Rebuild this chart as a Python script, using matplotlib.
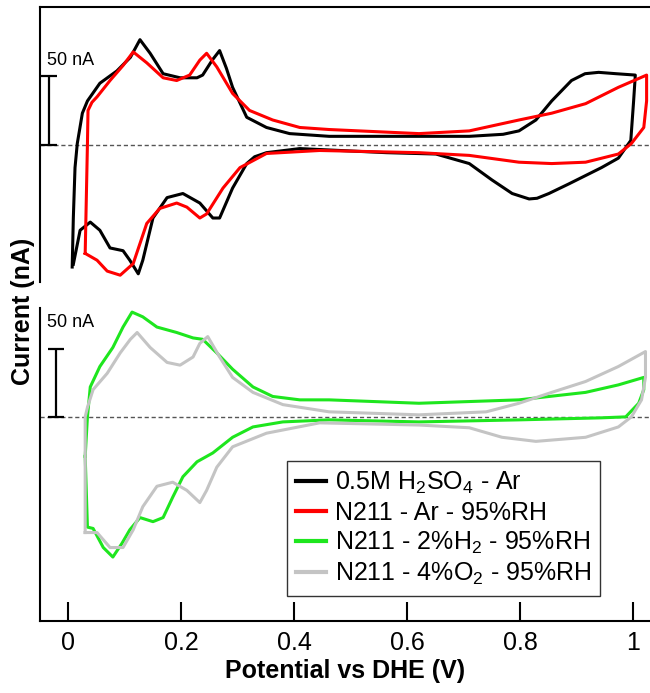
#!/usr/bin/env python3

import matplotlib
matplotlib.use("Agg")
import matplotlib.pyplot as plt

plt.rcParams['font.family'] = ['Liberation Sans', 'DejaVu Sans']
plt.rcParams['mathtext.default'] = 'regular'

# potential (V) | current (nA), one closed loop per cycle
h2so4_v = [0.007, 0.009, 0.012, 0.016, 0.025, 0.034, 0.056, 0.086, 0.110, 0.127,
           0.145, 0.168, 0.198, 0.228, 0.238, 0.255, 0.268, 0.280, 0.291, 0.316,
           0.351, 0.392, 0.462, 0.710, 0.770, 0.798, 0.828, 0.856, 0.891, 0.915,
           0.939, 0.970, 1.004, 1.001, 0.996, 0.974, 0.944, 0.886, 0.851, 0.830,
           0.816, 0.786, 0.750, 0.710, 0.651, 0.563, 0.410, 0.351, 0.330, 0.316,
           0.291, 0.268, 0.256, 0.233, 0.203, 0.175, 0.150, 0.132, 0.124, 0.109,
           0.097, 0.074, 0.056, 0.039, 0.021, 0.009]
h2so4_i = [-90, -54, -17, 0.7, 23, 32, 45, 54, 64, 77,
           67, 52, 49, 49, 51, 62, 69, 56, 42, 20,
           12.5, 8, 6, 6, 7.5, 10, 18, 32, 47, 52,
           53, 52, 51, 32, 3, -10, -17, -29, -36, -39.5,
           -40, -36, -26, -14, -7, -6, -3, -6, -9, -14,
           -32, -54, -54, -43, -36, -39, -54, -85, -95, -85,
           -78, -76, -63, -57, -63, -88]

ar_v = [0.030, 0.034, 0.035, 0.042, 0.051, 0.074, 0.097, 0.115, 0.139, 0.168,
        0.192, 0.215, 0.233, 0.245, 0.263, 0.291, 0.321, 0.362, 0.410, 0.462,
        0.621, 0.710, 0.798, 0.856, 0.916, 0.974, 1.024, 1.024, 1.019, 0.997,
        0.974, 0.916, 0.856, 0.798, 0.710, 0.621, 0.445, 0.351, 0.304, 0.274,
        0.245, 0.233, 0.210, 0.192, 0.162, 0.139, 0.115, 0.092, 0.069, 0.051,
        0.030]
ar_i = [-80, 0.7, 25, 31, 35, 47, 58, 68, 60, 49,
        47, 51, 62, 67, 57, 37.5, 25, 18, 12.5, 11,
        8, 10, 18, 23, 30, 42, 51, 32, 12.5, 0.7,
        -7, -13, -14, -13, -8, -6, -4.4, -6.6, -17, -32,
        -51, -54, -46, -43, -47, -58, -87.5, -96, -93, -85,
        -80]

h2_v = [0.030, 0.034, 0.039, 0.056, 0.079, 0.097, 0.113, 0.132, 0.157, 0.192,
        0.221, 0.238, 0.263, 0.291, 0.327, 0.362, 0.410, 0.462, 0.621, 0.798,
        0.916, 0.974, 1.019, 1.019, 1.010, 0.987, 0.944, 0.798, 0.621, 0.462,
        0.380, 0.327, 0.291, 0.256, 0.228, 0.203, 0.185, 0.168, 0.150, 0.127,
        0.109, 0.095, 0.079, 0.062, 0.044, 0.034, 0.030]
h2_i = [-29, 0, 22, 37, 51, 66, 77, 73.5, 66, 62,
        58, 57, 47, 35, 22, 15, 12.5, 12.5, 10, 12.5,
        18, 23.5, 29, 20, 10, 0, -0.7, -2.2, -3.7, -2.2,
        -3.7, -7.4, -15, -26.5, -33, -44, -59, -74, -77, -74,
        -83, -93, -103, -96, -82, -81, -29]

o2_v = [0.030, 0.030, 0.034, 0.044, 0.069, 0.092, 0.110, 0.122, 0.145, 0.175,
        0.198, 0.221, 0.233, 0.247, 0.268, 0.291, 0.327, 0.380, 0.462, 0.621,
        0.740, 0.798, 0.856, 0.916, 0.974, 1.022, 1.022, 1.015, 0.997, 0.974,
        0.916, 0.828, 0.768, 0.710, 0.621, 0.445, 0.351, 0.291, 0.263, 0.245,
        0.233, 0.210, 0.185, 0.157, 0.132, 0.115, 0.097, 0.074, 0.051, 0.030]
o2_i = [-85, 0, 7, 20, 32, 47, 57, 62, 51, 40,
        38, 44, 54, 59, 44, 29, 18, 9, 3.7, 1.5,
        3.7, 10, 18, 26, 37, 48, 29, 12.5, 0, -7.4,
        -15, -18, -15, -8, -6, -4.4, -12, -22, -37, -54,
        -63, -54, -48, -51, -66, -83, -96, -96, -85, -85]

labels = [r'0.5M H$_2$SO$_4$ - Ar', 'N211 - Ar - 95%RH',
          r'N211 - 2%H$_2$ - 95%RH', r'N211 - 4%O$_2$ - 95%RH']
colors = ['#000000', '#ff0000', '#1ee61e', '#c4c4c4']
xticks = [0, 0.2, 0.4, 0.6, 0.8, 1]
xticklabels = ['0', '0.2', '0.4', '0.6', '0.8', '1']


def scale_bar(ax, x, xt, yt):
  ax.errorbar([x], [25], yerr=[25], color='black', lw=1.6, capsize=6, capthick=1.6)
  ax.text(xt, yt, '50 nA', fontsize=13, va='center', ha='left')


def main():
  fig = plt.figure(figsize=(6.5, 6.93), dpi=100)
  ax1 = fig.add_axes([40/650, 1 - 282/693, 610/650, 275/693])
  ax2 = fig.add_axes([40/650, 1 - 621/693, 610/650, 313/693])

  lw = 2.2
  ax1.plot(h2so4_v, h2so4_i, color=colors[0], lw=lw, label=labels[0])
  ax1.plot(ar_v, ar_i, color=colors[1], lw=lw, label=labels[1])
  ax2.plot(h2_v, h2_i, color=colors[2], lw=lw, label=labels[2])
  ax2.plot(o2_v, o2_i, color=colors[3], lw=lw, label=labels[3])

  for ax in (ax1, ax2):
    ax.set_xlim(-0.05, 1.03)
    ax.axhline(0, color='#555555', lw=1, ls=(0, (3, 2)), zorder=0)
    ax.set_yticks([])
    ax.spines['right'].set_visible(False)
    for s in ax.spines.values():
      s.set_linewidth(1.5)

  ax1.set_ylim(-101, 101)
  ax1.spines['bottom'].set_visible(False)
  ax1.set_xticks([])

  ax2.set_ylim(-150, 80)
  ax2.spines['top'].set_visible(False)
  ax2.set_xticks(xticks)
  ax2.set_xticklabels(xticklabels)
  ax2.tick_params(axis='x', direction='in', length=14, width=1.5, pad=7, labelsize=18)
  ax2.set_xlabel('Potential vs DHE (V)', fontsize=18, fontweight='bold', labelpad=3)

  scale_bar(ax1, -0.034, -0.037, 62)
  scale_bar(ax2, -0.021, -0.037, 69)

  fig.text(23/650, 1 - 311/693, 'Current (nA)', rotation=90, fontsize=18,
           fontweight='bold', ha='center', va='center')

  h1, l1 = ax1.get_legend_handles_labels()
  h2, l2 = ax2.get_legend_handles_labels()
  leg = ax2.legend(h1 + h2, l1 + l2, loc='lower left', bbox_to_anchor=(0.405, 0.08),
                   borderaxespad=0, fontsize=18, frameon=True, fancybox=False,
                   handlelength=1.2, handletextpad=0.35, labelspacing=0.2,
                   borderpad=0.35)
  leg.get_frame().set_edgecolor('black')
  leg.get_frame().set_linewidth(1.0)
  for line in leg.get_lines():
    line.set_linewidth(3)

  fig.savefig('out.png', dpi=100)


if __name__ == "__main__":
  main()
